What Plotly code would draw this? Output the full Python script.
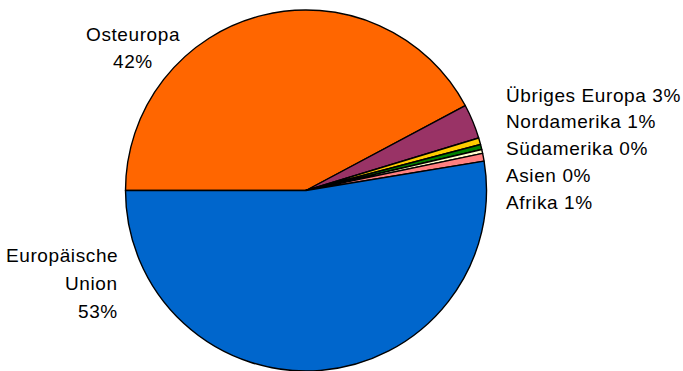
import plotly.graph_objects as go

# Export shares by region, in slice order (clockwise from 9 o'clock)
regions = ["Osteuropa", "Übriges Europa", "Nordamerika", "Südamerika",
           "Asien", "Afrika", "Europäische Union"]
shares = [42.2, 3.1, 0.6, 0.45, 0.35, 0.7, 52.6]
colors = ["#FF6600", "#993366", "#FFCC00", "#008000",
          "#FFFFCC", "#FF8080", "#0066CC"]

W, H = 683, 371
total = sum(shares)
pct = {r: round(v / total * 100) for r, v in zip(regions, shares)}

fig = go.Figure(go.Pie(
    labels=regions,
    values=shares,
    sort=False,
    direction="clockwise",
    rotation=-90,
    marker=dict(colors=colors, line=dict(color="black", width=1.4)),
    textinfo="none",
    hoverinfo="label+percent",
    showlegend=False,
    domain=dict(x=[125 / W, 487 / W], y=[0, 361 / H]),
))

FONT = dict(family="Liberation Sans, Arial, sans-serif", size=19, color="black")


def spaced(s):
    return f'<span style="letter-spacing:0.6px">{s}</span>'


annotations = []


def add_line(text, x_px, y_px, anchor):
    annotations.append(dict(
        text=spaced(text), x=x_px / W, y=1 - y_px / H,
        xref="paper", yref="paper", xanchor=anchor, yanchor="middle",
        showarrow=False, font=FONT,
    ))


# Small slices: labelled in a column to the right of the pie
small = ["Übriges Europa", "Nordamerika", "Südamerika", "Asien", "Afrika"]
for i, r in enumerate(small):
    add_line(f"{r} {pct[r]}%", 504, 95 + i * 26.8, "left")

# Osteuropa: centred above-left of the pie
for i, line in enumerate(["Osteuropa", f"{pct['Osteuropa']}%"]):
    add_line(line, 133, 34 + i * 27.5, "center")

# Europäische Union: right-aligned to the left of the pie
for i, line in enumerate(["Europäische", "Union", f"{pct['Europäische Union']}%"]):
    add_line(line, 120, 255 + i * 28, "right")

fig.update_layout(
    width=W, height=H,
    margin=dict(l=0, r=0, t=0, b=0),
    paper_bgcolor="white",
    plot_bgcolor="white",
    annotations=annotations,
)

fig.write_html("out.html")
